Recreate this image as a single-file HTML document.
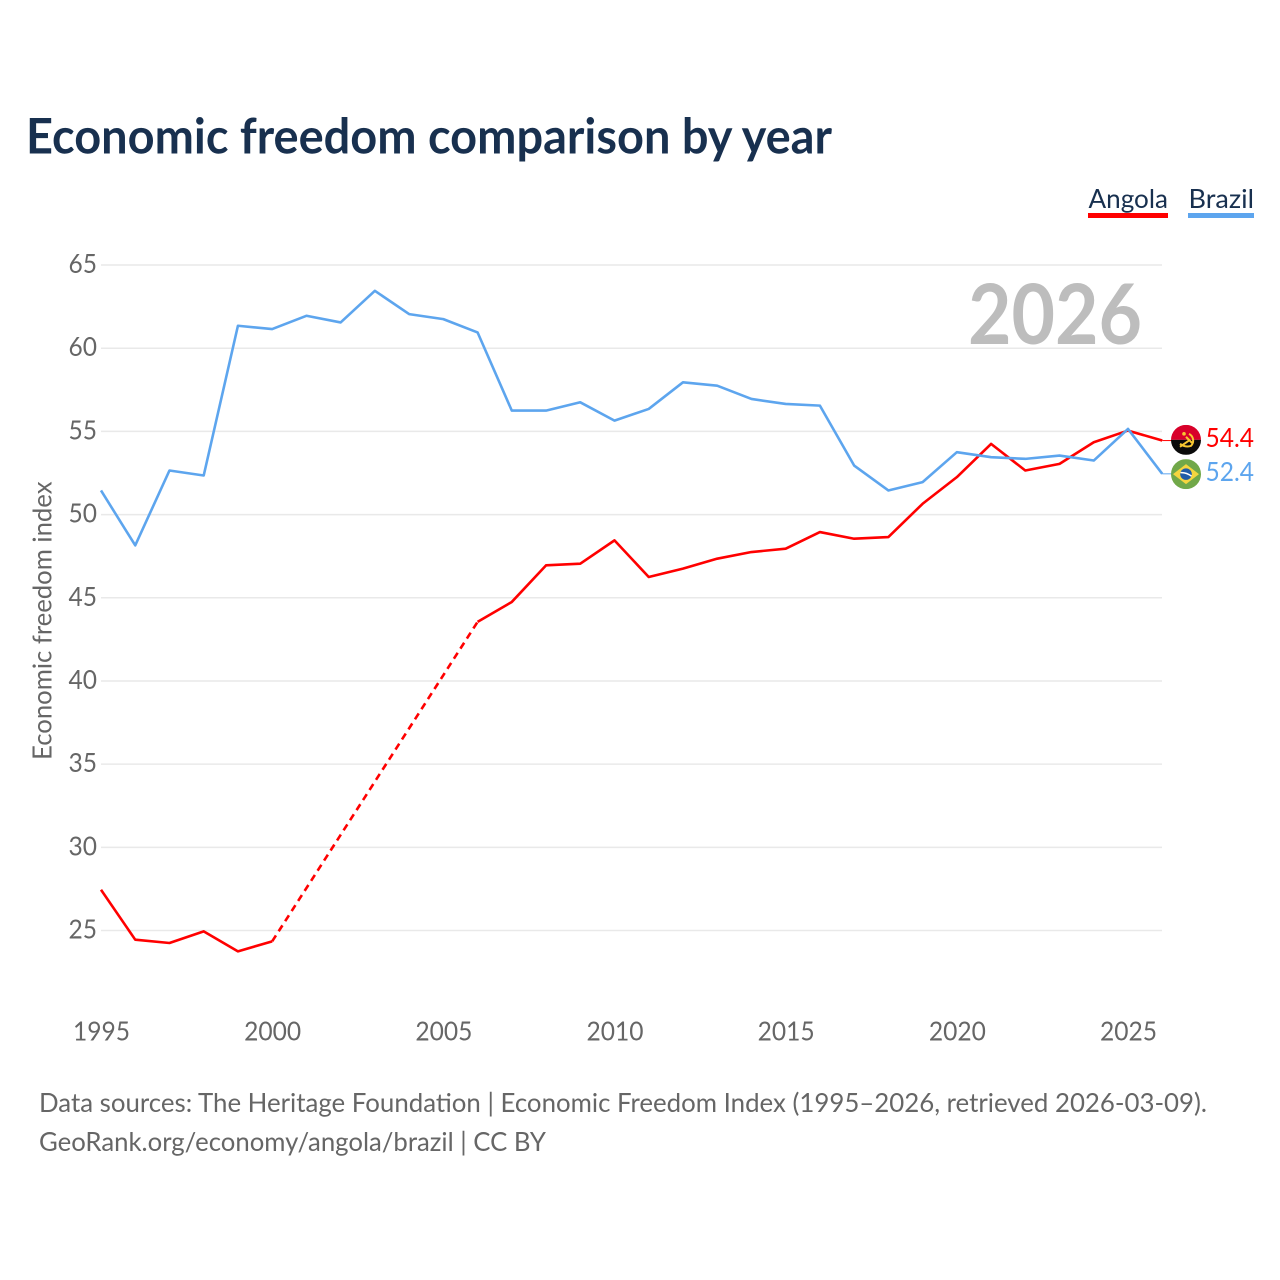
<!DOCTYPE html>
<html lang="en">
<head>
<meta charset="utf-8">
<title>Economic freedom comparison by year</title>
<style>
html,body{margin:0;padding:0;background:#fff;width:1280px;height:1280px;overflow:hidden}
svg{display:block}
text{font-family:"Lato","Carlito","Liberation Sans",sans-serif}
</style>
</head>
<body>
<svg id="chart" xmlns="http://www.w3.org/2000/svg" width="1280" height="1280" viewBox="0 0 1280 1280">
  <rect x="0" y="0" width="1280" height="1280" fill="#ffffff"/>
  <text x="26" y="153.5" font-size="48.5" font-weight="700" fill="#18304f" textLength="806" lengthAdjust="spacingAndGlyphs">Economic freedom comparison by year</text>

  <g>
    <text x="1088.5" y="208" font-size="26.5" fill="#18304f" textLength="79.5" lengthAdjust="spacingAndGlyphs">Angola</text>
    <rect x="1088" y="213" width="80" height="5" fill="#ff0000"/>
  </g>
  <g>
    <text x="1188.5" y="208" font-size="26.5" fill="#18304f" textLength="65.5" lengthAdjust="spacingAndGlyphs">Brazil</text>
    <rect x="1188" y="213" width="66" height="5" fill="#5da5ee"/>
  </g>

  <g id="grid"></g>
  <g id="yticks"></g>
  <g id="xticks"></g>

  <text transform="translate(51.5,760) rotate(-90)" x="0" y="0" font-size="26" fill="#666666" textLength="278.5" lengthAdjust="spacingAndGlyphs">Economic freedom index</text>
  <text x="968" y="344" font-size="83" font-weight="700" fill="#bdbdbd" textLength="174" lengthAdjust="spacingAndGlyphs">2026</text>

  <g id="series" transform="translate(0,-0.8)"></g>
  <g id="endmarks"></g>

  <defs>
    <clipPath id="flag-clip"><circle cx="0" cy="0" r="15"/></clipPath>
  </defs>

  <text x="39" y="1112" font-size="26.5" fill="#666666" textLength="1168" lengthAdjust="spacingAndGlyphs">Data sources: The Heritage Foundation | Economic Freedom Index (1995–2026, retrieved 2026-03-09).</text>
  <text x="39" y="1151" font-size="26.5" fill="#666666" textLength="507" lengthAdjust="spacingAndGlyphs">GeoRank.org/economy/angola/brazil | CC BY</text>
</svg>
<script>
const years = [1995,1996,1997,1998,1999,2000,2001,2002,2003,2004,2005,2006,2007,2008,2009,2010,2011,2012,2013,2014,2015,2016,2017,2018,2019,2020,2021,2022,2023,2024,2025,2026];
const angolaValues = [27.4,24.4,24.2,24.9,23.7,24.3,null,null,null,null,null,43.5,44.7,46.9,47.0,48.4,46.2,46.7,47.3,47.7,47.9,48.9,48.5,48.6,50.6,52.2,54.2,52.6,53.0,54.3,55.0,54.4];
const brazilValues = [51.4,48.1,52.6,52.3,61.3,61.1,61.9,61.5,63.4,62.0,61.7,60.9,56.2,56.2,56.7,55.6,56.3,57.9,57.7,56.9,56.6,56.5,52.9,51.4,51.9,53.7,53.4,53.3,53.5,53.2,55.1,52.4];
const yTickValues = [25,30,35,40,45,50,55,60,65];
const xTickValues = [1995,2000,2005,2010,2015,2020,2025];

const NS = 'http://www.w3.org/2000/svg';
const xScale = function (year) { return 101 + (year - 1995) * (1128 - 101) / 30; };
const yScale = function (value) { return 930.5 - (value - 25) * (930.5 - 265) / 40; };
const RED = '#ff0000';
const BLUE = '#5da5ee';

function make(tag, attrs, parent) {
  const el = document.createElementNS(NS, tag);
  Object.keys(attrs).forEach(function (k) { el.setAttribute(k, attrs[k]); });
  parent.appendChild(el);
  return el;
}

const grid = document.getElementById('grid');
const yticks = document.getElementById('yticks');
const xticks = document.getElementById('xticks');
const series = document.getElementById('series');
const endmarks = document.getElementById('endmarks');

yTickValues.forEach(function (v) {
  const line = make('line', {x1: 101, x2: 1162, y1: yScale(v), y2: yScale(v), stroke: '#e9e9e9', 'stroke-width': 1.5}, grid);
  
  
  const t = make('text', {x: 68.5, y: yScale(v) + 8, 'font-size': 26.5, fill: '#666666', textLength: 28.5, lengthAdjust: 'spacingAndGlyphs'}, yticks);
  
  
  t.textContent = String(v);
});

xTickValues.forEach(function (y) {
  const t = make('text', {x: xScale(y) - 28, y: 1040.5, 'font-size': 26.5, fill: '#666666', textLength: 57, lengthAdjust: 'spacingAndGlyphs'}, xticks);
  
  
  t.textContent = String(y);
});

function drawSeries(name, values, color) {
  let segment = [];
  let previous = null;
  const flush = function () {
    if (segment.length > 1) {
      const p = make('polyline', {points: segment.join(' '), fill: 'none', stroke: color, 'stroke-width': 2.6, 'stroke-linejoin': 'round'}, series);
      
      
    }
    segment = [];
  };
  values.forEach(function (v, i) {
    if (v === null) { flush(); return; }
    if (previous !== null && previous !== i - 1) {
      const gap = make('line', {x1: xScale(years[previous]), y1: yScale(values[previous]), x2: xScale(years[i]), y2: yScale(v), stroke: color, 'stroke-width': 2.6, 'stroke-dasharray': '7 5'}, series);
      
      
    }
    segment.push(xScale(years[i]) + ',' + yScale(v));
    previous = i;
  });
  flush();
}
drawSeries('angola', angolaValues, RED);
drawSeries('brazil', brazilValues, BLUE);

function drawFlag(name, value, offset) {
  const g = make('g', {transform: 'translate(1186,' + (yScale(value) + offset) + ')'}, endmarks);
  
  
  const inner = make('g', {'clip-path': 'url(#flag-clip)'}, g);
  if (name === 'angola') {
    make('rect', {x: -15, y: -15, width: 30, height: 15, fill: '#d8002a'}, inner);
    make('rect', {x: -15, y: 0, width: 30, height: 15, fill: '#0a0a0a'}, inner);
    make('path', {d: 'M3 -6 A7.5 7.5 0 0 1 5 6 Q0 8 -6 4', fill: 'none', stroke: '#f7c731', 'stroke-width': 2}, inner);
    make('path', {d: 'M-6 7 L4 0 M0 -3 L6 3', fill: 'none', stroke: '#f7c731', 'stroke-width': 2}, inner);
    make('circle', {cx: -2, cy: -6, r: 1.8, fill: '#f7c731'}, inner);
  } else {
    make('rect', {x: -15, y: -15, width: 30, height: 30, fill: '#71a849'}, inner);
    make('polygon', {points: '-13,0 0,-10 13,0 0,10', fill: '#f5d53f'}, inner);
    make('circle', {cx: 0, cy: 0, r: 5.8, fill: '#1f5ca8'}, inner);
    make('path', {d: 'M-5.5 -1.5 Q0 -2 5.5 2', fill: 'none', stroke: '#ffffff', 'stroke-width': 1.5}, inner);
  }
}

function drawEnd(name, values, color, flagOffset, labelY) {
  const last = values[values.length - 1];
  const lastYear = years[years.length - 1];
  const stub = make('line', {x1: xScale(lastYear), y1: yScale(last) - 0.8, x2: 1172, y2: yScale(last) - 0.8, stroke: color, 'stroke-width': 1}, endmarks);
  
  
  drawFlag(name, last, flagOffset);
  const t = make('text', {x: 1205.5, y: yScale(last) + labelY, 'font-size': 26.5, fill: color, textLength: 48.5, lengthAdjust: 'spacingAndGlyphs'}, endmarks);
  
  
  t.textContent = last.toFixed(1);
}
drawEnd('angola', angolaValues, RED, -1.5, 5.5);
drawEnd('brazil', brazilValues, BLUE, -0.5, 6.5);
</script>
</body>
</html>
